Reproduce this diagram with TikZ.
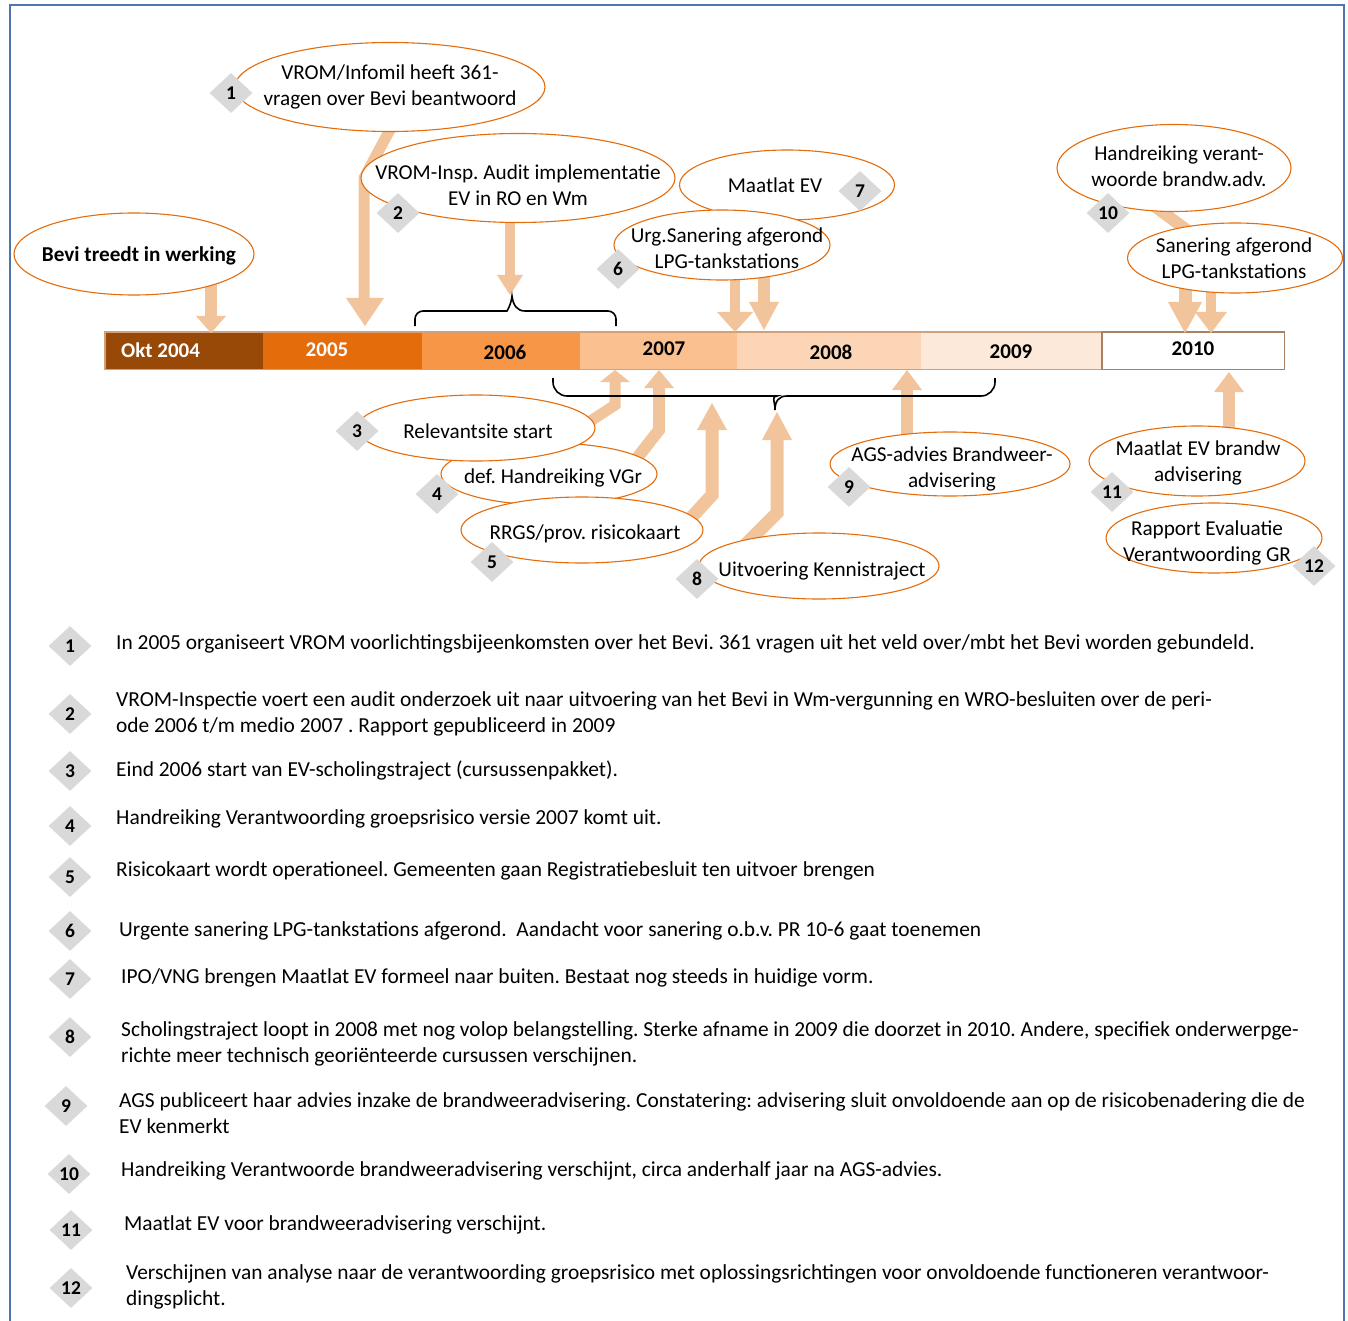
\documentclass[tikz,border=0pt]{standalone}
\usepackage{fontspec}
\setmainfont{Carlito}
\usetikzlibrary{shapes.geometric,calc}

\definecolor{frameblue}{HTML}{4F75AE}
\definecolor{ellorange}{HTML}{E46C0A}
\definecolor{yrA}{HTML}{984807}
\definecolor{yrB}{HTML}{E46C0A}
\definecolor{yrC}{HTML}{F79646}
\definecolor{yrD}{HTML}{FAC090}
\definecolor{yrE}{HTML}{FBD5B5}
\definecolor{yrF}{HTML}{FDE9D9}
\definecolor{barline}{HTML}{D2A07A}
\definecolor{peach}{HTML}{F2C49C}
\definecolor{diamgray}{HTML}{D9D9D9}

% arrow heads: tip x, tip y, half width, length
\newcommand{\headdown}[4]{\fill[peach] (#1,#2) -- (#1-#3,#2-#4) -- (#1+#3,#2-#4) -- cycle;}
\newcommand{\headup}[4]{\fill[peach] (#1,#2) -- (#1-#3,#2+#4) -- (#1+#3,#2+#4) -- cycle;}

\frenchspacing
\begin{document}
\begin{tikzpicture}[x=1pt,y=-1pt,
  ell/.style={ellipse, draw=ellorange, line width=1.1pt, fill=white, inner sep=0pt},
  lbl/.style={align=center, inner sep=0pt, font=\fontsize{21.2}{26}\selectfont},
  num/.style={diamond, fill=diamgray, minimum width=43pt, minimum height=40pt,
              inner sep=0pt, font=\fontsize{19.5}{20}\selectfont\bfseries},
  yearseg/.style={minimum height=37pt, inner sep=0pt, anchor=north west, draw=none},
  yearlbl/.style={inner sep=0pt, font=\fontsize{21}{24}\selectfont\bfseries},
  item/.style={anchor=west, align=left, inner sep=0pt, font=\fontsize{21.4}{26}\selectfont},
  shaft/.style={draw=peach, line width=#1, line join=miter},
  bracket/.style={draw=black, line width=1.6pt},
]
\useasboundingbox (0,0) rectangle (1348,1321);

% page frame
\draw[frameblue, line width=1.4pt] (10,1321) -- (10,5) -- (1344,5) -- (1344,1321);

% ---------- time bar ----------
\node[yearseg, fill=yrA, minimum width=158pt] (y04) at (105,332) {};
\node[yearseg, fill=yrB, minimum width=159pt] (y05) at (263,332) {};
\node[yearseg, fill=yrC, minimum width=158pt] (y06) at (422,332) {};
\node[yearseg, fill=yrD, minimum width=157pt] (y07) at (580,332) {};
\node[yearseg, fill=yrE, minimum width=184pt] (y08) at (737,332) {};
\node[yearseg, fill=yrF, minimum width=181pt] (y09) at (921,332) {};
\node[yearseg, fill=white, minimum width=182pt] (y10) at (1102,332) {};
\draw[barline, line width=1.2pt] (y04.north west) rectangle (y10.south east);
\draw[barline!80!black, line width=1.2pt] (y10.north west) rectangle (y10.south east);

\node[yearlbl, text=white, anchor=west] (l04) at (121,350) {Okt 2004};
\node[yearlbl, text=white] (l05) at (327,350) {2005};
\node[yearlbl] (l06) at (505,352) {2006};
\node[yearlbl] (l07) at (664,349) {2007};
\node[yearlbl] (l08) at (831,352) {2008};
\node[yearlbl] (l09) at (1011,352) {2009};
\node[yearlbl] (l10) at (1193,349) {2010};

% ---------- upper events ----------
\coordinate (c-bevi) at (134,254);
\coordinate (c-e1) at (390,87);
\coordinate (c-e2) at (518,178);
\coordinate (c-e6) at (722,245);
\coordinate (c-e10) at (1174,168);
\coordinate (c-san) at (1235,258);

% arrows pointing down onto the bar (drawn beneath the ellipses)
\draw[shaft=12pt] (c-bevi -| 211,0) -- (211,318);
\headdown{211}{333}{15}{17}
\draw[shaft=10pt] (c-e2 -| 510,0) -- (510,276);
\headdown{510}{295}{13}{20}
\draw[shaft=11pt] (c-e1 -| 413,0) -- (364,178) -- (364,300);
\headdown{365}{326}{19}{28}
\draw[shaft=10pt] (c-e6 -| 735,0) -- (735,313);
\headdown{735}{332}{18}{20}
\draw[shaft=12pt] (c-e6 -| 764,0) -- (764,303);
\headdown{764}{330}{15}{28}
\draw[shaft=12pt] (c-e10 -| 1133,0) ++(0,22) -- (1200,240);
\draw[shaft=13pt] (c-san -| 1185,0) -- (1185,303);
\headdown{1185}{333}{17}{31}
\draw[shaft=10pt] (c-san -| 1211,0) -- (1211,313);
\headdown{1211}{333}{16}{21}

\node[ell, minimum width=240pt, minimum height=82pt] (bevi) at (c-bevi) {};
\node[ell, minimum width=314pt, minimum height=89pt] (e2) at (c-e2) {};
\node[ell, minimum width=310pt, minimum height=89pt] (e1) at (c-e1) {};
\node[ell, minimum width=215pt, minimum height=70pt] (e7) at (787,185) {};
\node[ell, minimum width=216pt, minimum height=70pt] (e6) at (c-e6) {};
\node[ell, minimum width=215pt, minimum height=70pt] (san) at (c-san) {};
\node[ell, minimum width=234pt, minimum height=87pt] (e10) at (c-e10) {};

\node[lbl, font=\fontsize{21.2}{26}\selectfont\bfseries] (bevit) at (139,256) {Bevi treedt in werking};
\node[lbl] (e1t) at (390,87) {VROM/Infomil heeft 361-\\vragen over Bevi beantwoord};
\node[lbl] (e2t) at (518,185) {VROM-Insp. Audit implementatie\\EV in RO en Wm};
\node[lbl] (e7t) at (775,185) {Maatlat EV};
\node[lbl] (e6t) at (727,248) {Urg.Sanering afgerond\\LPG-tankstations};
\node[lbl] (e10t) at (1179,166) {Handreiking verant-\\woorde brandw.adv.};
\node[lbl] (sant) at (1234,258) {Sanering afgerond\\LPG-tankstations};

\node[num] (d1) at (231,93) {1};
\node[num] (d2) at (398,213) {2};
\node[num] (d7) at (860,191) {7};
\node[num] (d6) at (618,269) {6};
\node[num] (d10) at (1108,213) {10};

% brace above 2006
\draw[bracket] (415,326) [rounded corners=8pt] -- (415,311) -- (499,311) [sharp corners]
  .. controls (507,311) and (511,305) .. (512,296)
  .. controls (513,305) and (517,311) .. (525,311) [rounded corners=8pt]
  -- (616,311) -- (616,326);

% ---------- lower events ----------
\coordinate (c-e3) at (476,428);
\coordinate (c-e4) at (549,474);
\coordinate (c-e5) at (582,530);
\coordinate (c-e8) at (819,566);
\coordinate (c-e9) at (950,464);
\coordinate (c-e11) at (1197,461);
\coordinate (c-e12) at (1214,538);

% arrows pointing up onto the bar
\draw[shaft=11pt] ($(c-e3)+(84,13)$) -- (615,405) -- (615,381);
\headup{615}{370}{15}{12}
\draw[shaft=12pt] ($(c-e4)+(81,-7)$) -- (659,430) -- (659,387);
\headup{659}{370}{15}{18}
\draw[shaft=13pt] ($(c-e5)+(98,0)$) -- (712,495) -- (712,429);
\headup{712}{403}{15}{27}
\draw[shaft=13pt] ($(c-e8)+(-74,-21)$) -- (777,513) -- (777,439);
\headup{777}{412}{15}{28}
\draw[shaft=12pt] (c-e9 -| 907,0) -- (907,389);
\headup{907}{370}{15}{20}
\draw[shaft=12pt] (c-e11 -| 1229,0) -- (1229,391);
\headup{1229}{372}{15}{20}

% brace below 2007-2009
\draw[bracket] (553,378) [rounded corners=14pt] -- (553,396) -- (763,396) [sharp corners]
  .. controls (771,396) and (775,401) .. (775,410)
  .. controls (775,401) and (779,396) .. (787,396) [rounded corners=14pt]
  -- (995,396) -- (995,378);

\node[ell, minimum width=216pt, minimum height=62pt] (e4) at (c-e4) {};
\node[ell, minimum width=242pt, minimum height=66pt] (e5) at (c-e5) {};
\node[ell, minimum width=238pt, minimum height=66pt] (e3) at (c-e3) {};
\node[ell, minimum width=240pt, minimum height=66pt] (e8) at (c-e8) {};
\node[ell, minimum width=240pt, minimum height=64pt] (e9) at (c-e9) {};
\node[ell, minimum width=216pt, minimum height=70pt] (e11) at (c-e11) {};
\node[ell, minimum width=216pt, minimum height=70pt] (e12) at (c-e12) {};

\node[lbl] (e3t) at (478,431) {Relevantsite start};
\node[lbl] (e4t) at (553,478) {def. Handreiking VGr};
\node[lbl] (e5t) at (585,534) {RRGS/prov. risicokaart};
\node[lbl] (e8t) at (822,571) {Uitvoering Kennistraject};
\node[lbl] (e9t) at (952,469) {AGS-advies Brandweer-\\advisering};
\node[lbl] (e11t) at (1198,463) {Maatlat EV brandw\\advisering};
\node[lbl] (e12t) at (1207,543) {Rapport Evaluatie\\Verantwoording GR};

\node[num] (d3) at (357,431) {3};
\node[num] (d4) at (437,494) {4};
\node[num] (d5) at (492,562) {5};
\node[num] (d8) at (697,579) {8};
\node[num] (d9) at (849,487) {9};
\node[num] (d11) at (1112,492) {11};
\node[num] (d12) at (1314,566) {12};

% ---------- legend ----------
\node[num] (n1) at (70,646) {1};
\node[num] (n2) at (70,714) {2};
\node[num] (n3) at (70,771) {3};
\node[num] (n4) at (70,826) {4};
\node[num] (n5) at (70,877) {5};
\node[num] (n6) at (70,931) {6};
\node[num] (n7) at (70,979) {7};
\node[num] (n8) at (70,1037) {8};
\node[num] (n9) at (66,1106) {9};
\node[num] (n10) at (69,1174) {10};
\node[num] (n11) at (71,1230) {11};
\node[num] (n12) at (71,1288) {12};

\node[item] (t1) at (116,644) {In 2005 organiseert VROM voorlichtingsbijeenkomsten over het Bevi. 361 vragen uit het veld over/mbt het Bevi worden gebundeld.};
\node[item] (t2) at (116,714) {VROM-Inspectie voert een audit onderzoek uit naar uitvoering van het Bevi in Wm-vergunning en WRO-besluiten over de peri-\\ode 2006 t/m medio 2007 . Rapport gepubliceerd in 2009};
\node[item] (t3) at (116,771) {Eind 2006 start van EV-scholingstraject (cursussenpakket).};
\node[item] (t4) at (116,819) {Handreiking Verantwoording groepsrisico versie 2007 komt uit.};
\node[item] (t5) at (116,871) {Risicokaart wordt operationeel. Gemeenten gaan Registratiebesluit ten uitvoer brengen};
\node[item] (t6) at (119,931) {Urgente sanering LPG-tankstations afgerond.\ \ Aandacht voor sanering o.b.v. PR 10-6 gaat toenemen};
\node[item] (t7) at (121,978) {IPO/VNG brengen Maatlat EV formeel naar buiten. Bestaat nog steeds in huidige vorm.};
\node[item] (t8) at (121,1044) {Scholingstraject loopt in 2008 met nog volop belangstelling. Sterke afname in 2009 die doorzet in 2010. Andere, specifiek onderwerpge-\\richte meer technisch georiënteerde cursussen verschijnen.};
\node[item] (t9) at (119,1113) {AGS publiceert haar advies inzake de brandweeradvisering. Constatering: advisering sluit onvoldoende aan op de risicobenadering die de\\EV kenmerkt};
\node[item] (t10) at (121,1171) {Handreiking Verantwoorde brandweeradvisering verschijnt, circa anderhalf jaar na AGS-advies.};
\node[item] (t11) at (124,1225) {Maatlat EV voor brandweeradvisering verschijnt.};
\node[item] (t12) at (126,1287) {Verschijnen van analyse naar de verantwoording groepsrisico met oplossingsrichtingen voor onvoldoende functioneren verantwoor-\\dingsplicht.};

\end{tikzpicture}
\end{document}
